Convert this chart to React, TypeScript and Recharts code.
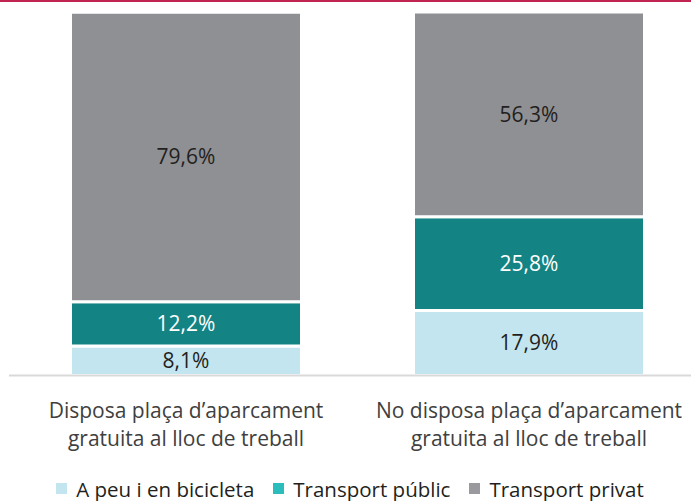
import React from "react";
import { BarChart, Bar, XAxis, YAxis, LabelList, Legend } from "recharts";

const categories = [
  ["Disposa plaça d\u2019aparcament", "gratuita al lloc de treball"],
  ["No disposa plaça d\u2019aparcament", "gratuita al lloc de treball"],
];
const seriesNames = ["A peu i en bicicleta", "Transport públic", "Transport privat"];
const apeu = [8.1, 17.9];
const publicT = [12.2, 25.8];
const privat = [79.6, 56.3];

const barColors = ["#c3e5f0", "#148383", "#8f9094"];
const legendColors = ["#c3e5f0", "#2bbcbc", "#9a9a9e"];
const labelColors = ["#231f20", "#ffffff", "#231f20"];
const keys = ["apeu", "publicT", "privat"];

const data = categories.map((c, i) => ({
  name: c.join(" "),
  apeu: apeu[i],
  publicT: publicT[i],
  privat: privat[i],
}));

const FONT = "'Open Sans', sans-serif";

const fmt = (v: any) => `${String(v).replace(".", ",")}%`;

const CatTick = (props: any) => {
  const { x, y, payload, index } = props;
  const lines = categories[index] || [payload.value];
  return (
    <g>
      {lines.map((l: string, i: number) => (
        <text
          key={i}
          x={x}
          y={y + 34 + i * 28}
          textAnchor="middle"
          fill="#404040"
          fontSize={21}
          fontFamily={FONT}
        >
          {l}
        </text>
      ))}
    </g>
  );
};

const LegendContent = () => (
  <div
    style={{
      display: "flex",
      justifyContent: "center",
      alignItems: "center",
      fontFamily: FONT,
      fontSize: 20.5,
      color: "#231f20",
      gap: 19,
      height: 30,
      paddingTop: 5,
      boxSizing: "border-box",
    }}
  >
    {seriesNames.map((n, i) => (
      <div key={n} style={{ display: "flex", alignItems: "center" }}>
        <span
          style={{
            display: "inline-block",
            width: 11,
            height: 11,
            background: legendColors[i],
            marginRight: 9,
          }}
        />
        <span>{n}</span>
      </div>
    ))}
  </div>
);

export default function App() {
  return (
    <div style={{ position: "absolute", left: 0, top: 0, width: 691, height: 501, background: "#fff" }}>
      <div style={{ position: "absolute", left: 0, top: 0, width: 691, height: 2, background: "#c0234f" }} />
      <BarChart
        width={691}
        height={501}
        data={data}
        margin={{ top: 12, right: 0, left: 9, bottom: 0 }}
      >
        <XAxis
          dataKey="name"
          tick={<CatTick />}
          tickLine={false}
          axisLine={{ stroke: "#d9d9d9", strokeWidth: 2 }}
          padding={{ left: 5.5, right: -9.5 }}
          height={95.5}
          interval={0}
        />
        <YAxis hide domain={[0, 100]} />
        {keys.map((k, i) => (
          <Bar
            key={k}
            dataKey={k}
            name={seriesNames[i]}
            stackId="a"
            fill={barColors[i]}
            stroke="#ffffff"
            strokeWidth={3}
            barSize={231}
            isAnimationActive={false}
          >
            <LabelList
              dataKey={k}
              position="center"
              formatter={fmt}
              fill={labelColors[i]}
              fontSize={21}
              fontFamily={FONT}
            />
          </Bar>
        ))}
        <Legend verticalAlign="bottom" height={30} content={<LegendContent />} />
      </BarChart>
    </div>
  );
}
